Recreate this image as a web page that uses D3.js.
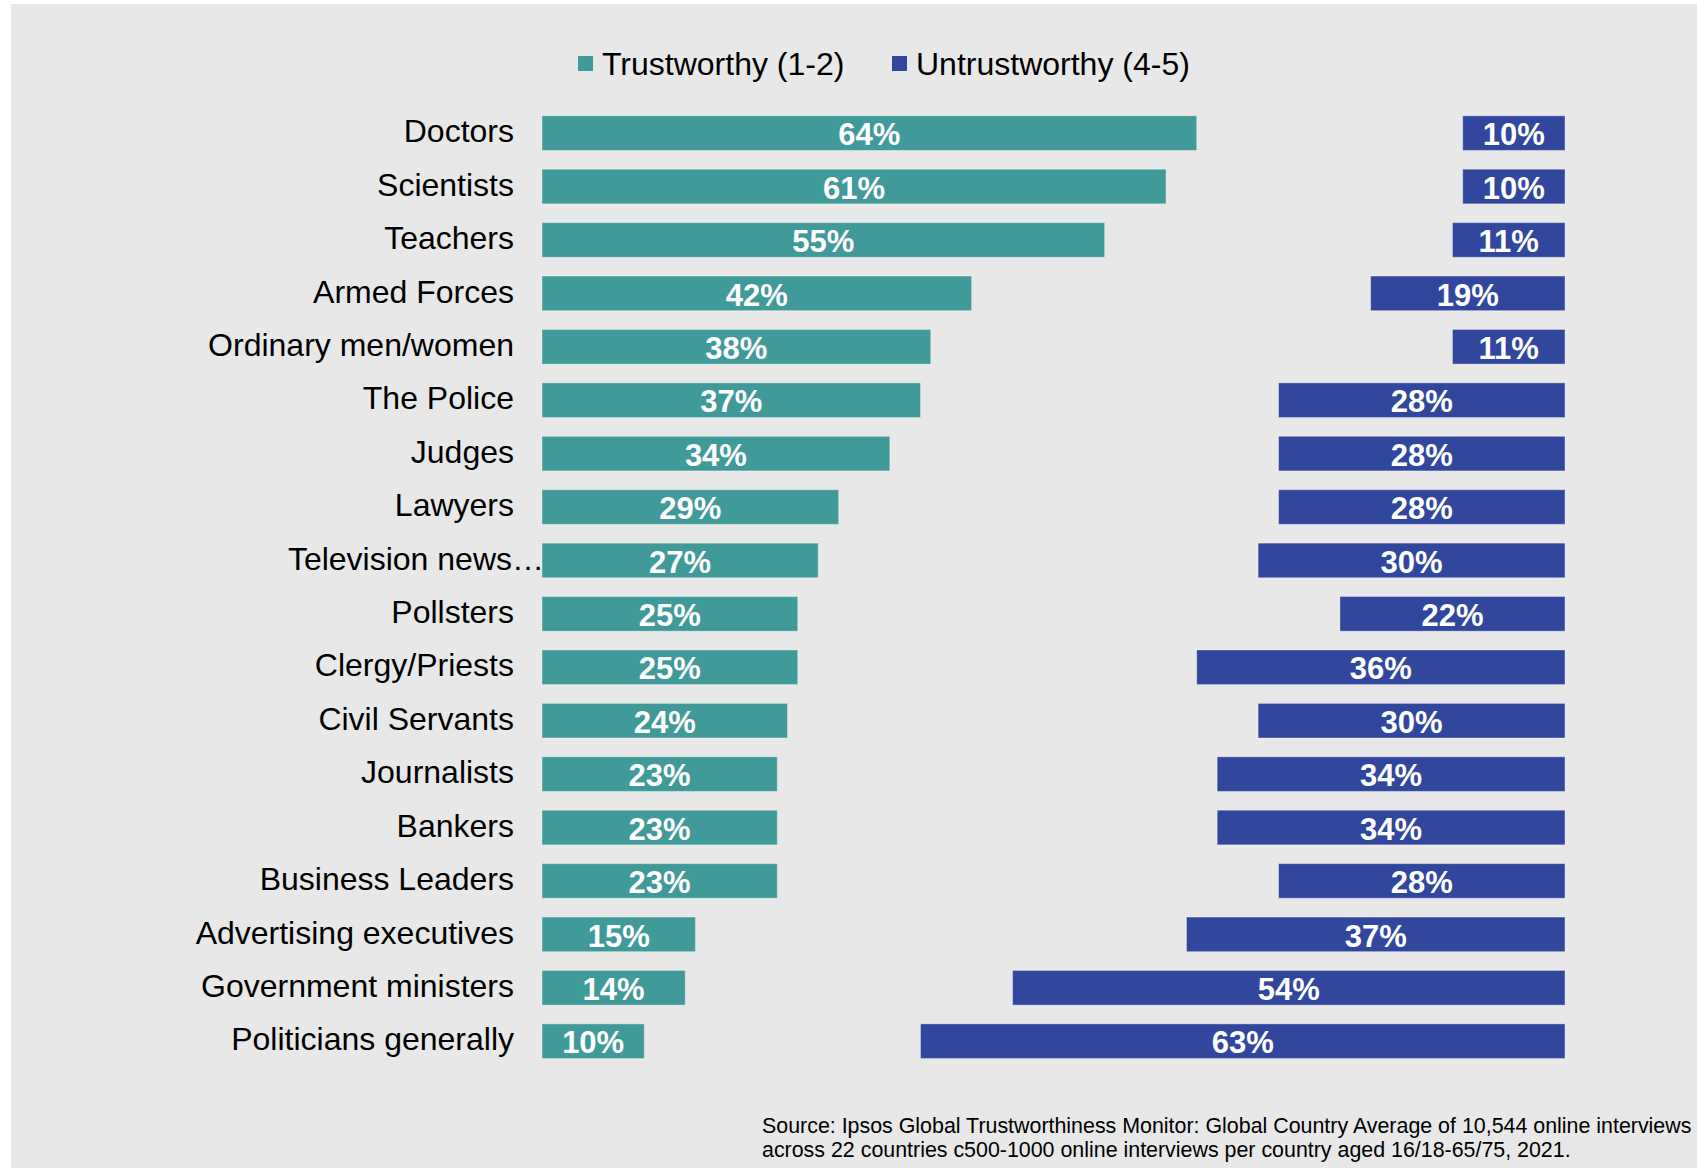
<!DOCTYPE html>
<html>
<head>
<meta charset="utf-8">
<script src="https://cdn.jsdelivr.net/npm/d3@7"></script>
<style>
  html, body { margin: 0; padding: 0; background: #ffffff; }
  svg { display: block; font-family: "Liberation Sans", Arial, Helvetica, sans-serif; }
</style>
</head>
<body>
<svg id="chart" width="1697" height="1168"></svg>
<script>
// Share of respondents rating each profession trustworthy / untrustworthy (%)
const categories = [
  "Doctors", "Scientists", "Teachers", "Armed Forces", "Ordinary men/women",
  "The Police", "Judges", "Lawyers", "Television news\u2026", "Pollsters",
  "Clergy/Priests", "Civil Servants", "Journalists", "Bankers",
  "Business Leaders", "Advertising executives", "Government ministers",
  "Politicians generally"
];
const trustworthy   = [64, 61, 55, 42, 38, 37, 34, 29, 27, 25, 25, 24, 23, 23, 23, 15, 14, 10];
const untrustworthy = [10, 10, 11, 19, 11, 28, 28, 28, 30, 22, 36, 30, 34, 34, 28, 37, 54, 63];
const seriesNames = ["Trustworthy (1-2)", "Untrustworthy (4-5)"];
const sourceLines = [
  "Source: Ipsos Global Trustworthiness Monitor: Global Country Average of 10,544 online interviews",
  "across 22 countries c500-1000 online interviews per country aged 16/18-65/75, 2021."
];

const W = 1697, H = 1168;
const colors = { trust: "#419a9a", untrust: "#31479d" };

const svg = d3.select("#chart");

// panel background
svg.append("rect")
  .attr("x", 11).attr("y", 4)
  .attr("width", W - 11).attr("height", H - 4)
  .attr("fill", "#e8e8e8");

// 0–100 % across the plot; untrustworthy bars are anchored at the right end
const x = d3.scaleLinear().domain([0, 100]).range([542, 1565]);
const y = d3.scaleBand().domain(categories).range([106.4, 1067.9])
  .paddingInner(0.352).paddingOuter(0.176);

const rows = categories.map((c, i) => ({ cat: c, t: trustworthy[i], u: untrustworthy[i] }));

const g = svg.append("g");

// trustworthy bars
g.selectAll("rect.trust").data(rows).join("rect")
  .attr("class", "trust")
  .attr("x", x(0))
  .attr("y", d => y(d.cat))
  .attr("width", d => x(d.t) - x(0))
  .attr("height", y.bandwidth())
  .attr("fill", colors.trust)
  .attr("stroke", "rgba(255,255,255,0.35)")
  .attr("stroke-width", 1);

// untrustworthy bars
g.selectAll("rect.untrust").data(rows).join("rect")
  .attr("class", "untrust")
  .attr("x", d => x(100 - d.u))
  .attr("y", d => y(d.cat))
  .attr("width", d => x(100) - x(100 - d.u))
  .attr("height", y.bandwidth())
  .attr("fill", colors.untrust)
  .attr("stroke", "rgba(255,255,255,0.35)")
  .attr("stroke-width", 1);

// value labels
const valueStyle = sel => sel
  .attr("fill", "#ffffff")
  .attr("font-weight", "bold")
  .attr("font-size", 31)
  .attr("text-anchor", "middle")
  .attr("dy", "0.36em");

g.selectAll("text.tv").data(rows).join("text")
  .attr("class", "tv")
  .attr("x", d => (x(0) + x(d.t)) / 2)
  .attr("y", d => y(d.cat) + y.bandwidth() / 2 + 1)
  .text(d => d.t + "%")
  .call(valueStyle);

g.selectAll("text.uv").data(rows).join("text")
  .attr("class", "uv")
  .attr("x", d => (x(100 - d.u) + x(100)) / 2)
  .attr("y", d => y(d.cat) + y.bandwidth() / 2 + 1)
  .text(d => d.u + "%")
  .call(valueStyle);

// category labels
const labelX = x(0) - 28;
g.selectAll("text.cat").data(rows).join("text")
  .attr("class", "cat")
  .attr("x", d => d.cat.endsWith("\u2026") ? labelX + 30 : labelX)
  .attr("y", d => y(d.cat) + y.bandwidth() / 2 - 2)
  .attr("dy", "0.35em")
  .attr("text-anchor", "end")
  .attr("font-size", 32)
  .attr("fill", "#000000")
  .text(d => d.cat);

// legend
const legend = svg.append("g");
const legendItems = [
  { name: seriesNames[0], color: colors.trust, x: 578 },
  { name: seriesNames[1], color: colors.untrust, x: 892 }
];
legendItems.forEach(it => {
  legend.append("rect")
    .attr("x", it.x).attr("y", 56)
    .attr("width", 15).attr("height", 15)
    .attr("fill", it.color);
  legend.append("text")
    .attr("x", it.x + 24).attr("y", 64)
    .attr("dy", "0.35em")
    .attr("font-size", 32)
    .attr("fill", "#000000")
    .text(it.name);
});

// source note
svg.append("g").selectAll("text").data(sourceLines).join("text")
  .attr("x", 762)
  .attr("y", (d, i) => 1133 + i * 24)
  .attr("font-size", 21.4)
  .attr("fill", "#000000")
  .text(d => d);
</script>
</body>
</html>
